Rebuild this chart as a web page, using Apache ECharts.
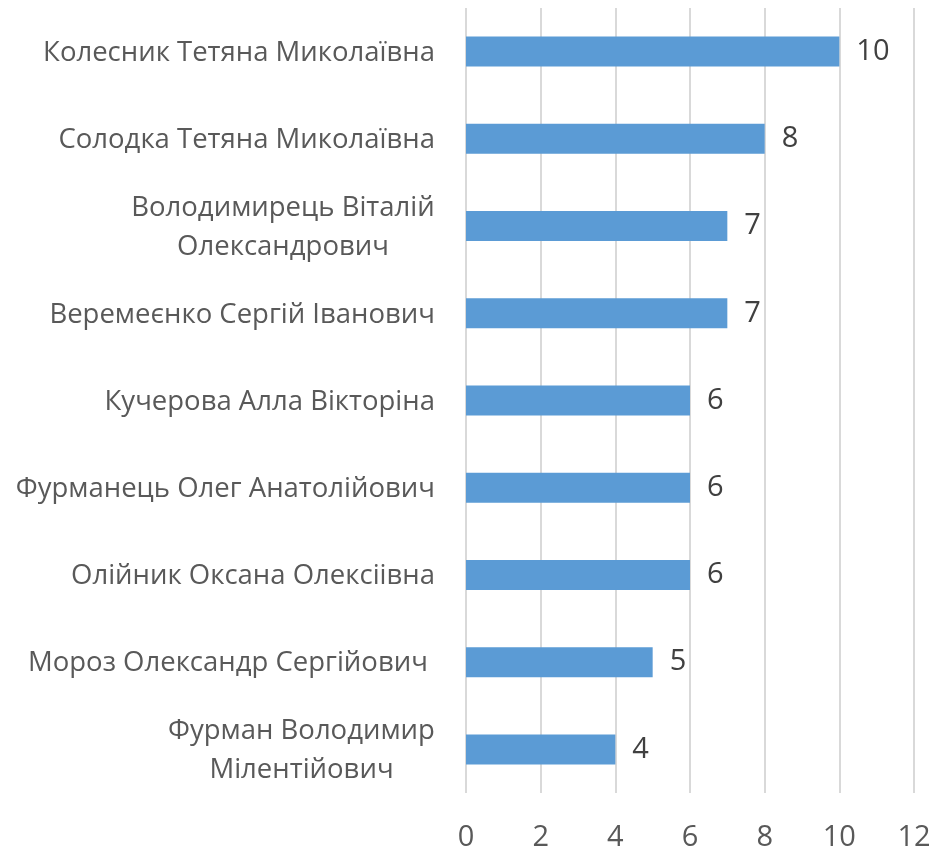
<!DOCTYPE html>
<html><head><meta charset="utf-8">
<script src="https://cdn.jsdelivr.net/npm/echarts@6/dist/echarts.min.js"></script>
<style>html,body{margin:0;padding:0;background:#fff}#c{width:932px;height:850px}</style>
</head><body><div id="c"></div>
<script>
const categories = [
  "Колесник Тетяна Миколаївна",
  "Солодка Тетяна Миколаївна",
  "Володимирець Віталій\nОлександрович",
  "Веремеєнко Сергій Іванович",
  "Кучерова Алла Вікторіна",
  "Фурманець Олег Анатолійович",
  "Олійник Оксана Олексіівна",
  "Мороз Олександр Сергійович ",
  "Фурман Володимир\nМілентійович"
];
const values = [10, 8, 7, 7, 6, 6, 6, 5, 4];
const xTicks = [0, 2, 4, 6, 8, 10, 12];

const FONT_SIZE = 27.5;
const FONT_FAMILY = 'Open Sans';
const ctx = document.createElement('canvas').getContext('2d');
ctx.font = FONT_SIZE + 'px "' + FONT_FAMILY + '"';
const rich = {};
const keyOf = {};
categories.forEach((c, i) => {
  const lines = c.split('\n');
  if (lines.length > 1) {
    const w = Math.ceil(Math.max(...lines.map(l => ctx.measureText(l).width)));
    rich['r' + i] = {width: w, align: 'center', color: '#595959', fontSize: FONT_SIZE, fontFamily: FONT_FAMILY, lineHeight: 39};
    keyOf[c] = 'r' + i;
  }
});

const chart = echarts.init(document.getElementById('c'));
chart.setOption({
  animation: false,
  grid: {left: 466, right: 18, top: 8, bottom: 57, containLabel: false, outerBoundsMode: 'none'},
  xAxis: {
    type: 'value', min: xTicks[0], max: xTicks[xTicks.length-1], interval: 2,
    axisLine: {show: false}, axisTick: {show: false},
    splitLine: {lineStyle: {color: '#d9d9d9', width: 2}},
    axisLabel: {color: '#595959', fontSize: 29, fontFamily: FONT_FAMILY, margin: 30}
  },
  yAxis: {
    type: 'category', data: categories, inverse: true,
    axisLine: {show: false}, axisTick: {show: false},
    axisLabel: {
      color: '#595959', fontSize: FONT_SIZE, fontFamily: FONT_FAMILY, margin: 31, lineHeight: 39, align: 'right',
      padding: [3, 0, 0, 0],
      rich: rich,
      formatter: function (v) {
        const k = keyOf[v];
        if (!k) return v;
        return v.split('\n').map(l => '{' + k + '|' + l + '}').join('\n');
      }
    }
  },
  series: [{
    type: 'bar', data: values, barWidth: 30,
    itemStyle: {color: '#5b9bd5'},
    label: {show: true, position: 'right', distance: 17, color: '#404040', fontSize: 29, fontFamily: FONT_FAMILY, padding: [3, 0, 0, 0]}
  }]
});
</script></body></html>
